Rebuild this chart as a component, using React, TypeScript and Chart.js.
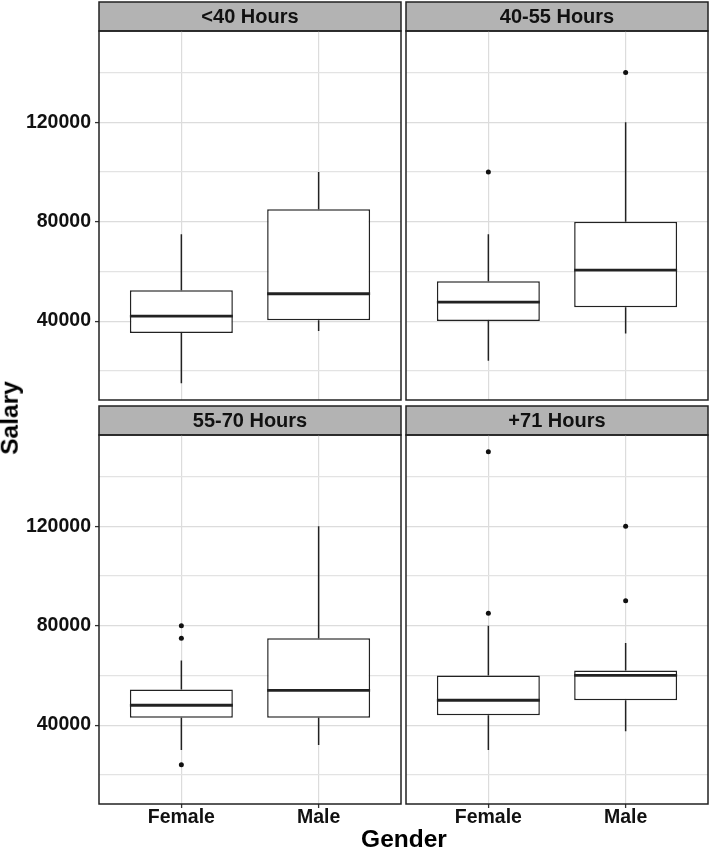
import React, { useEffect, useRef } from 'react';
import { Chart, registerables } from 'chart.js';

Chart.register(...registerables);

// ---------------- data ----------------
const genders = ['Female', 'Male'];
const hourGroups = ['<40 Hours', '40-55 Hours', '55-70 Hours', '+71 Hours'];
const lowerWhisker = [[15000, 36000], [24000, 35000], [30000, 32000], [30000, 37500]];
const lowerHinge = [[35200, 40300], [40000, 45600], [43000, 43000], [44000, 50000]];
const medians = [[42000, 51000], [47600, 60500], [48000, 54000], [50000, 60000]];
const upperHinge = [[52400, 85000], [56000, 80000], [54300, 75000], [60000, 62000]];
const upperWhisker = [[75000, 100000], [75000, 120000], [66000, 120000], [80000, 73000]];
const outliers = [
  [[], []],
  [[100000], [140000]],
  [[80000, 75000, 24000], []],
  [[150000, 85000], [120000, 90000]],
];
const yMajorTicks = [40000, 80000, 120000];
const yMinorTicks = [20000, 60000, 100000, 140000];

// ---------------- layout / style ----------------
const W = 712;
const H = 850;
const FONT = "'Liberation Sans', Arial, Helvetica, sans-serif";
const colLeft = [99, 406];
const colRight = [401, 708];
const rowTop = [2, 406];
const stripH = 29;
const panelH = 369;
const xAxisH = 46;
const INK = '#222222';

const allVals = [lowerWhisker, upperWhisker, outliers].flat(3) as number[];
const dMin = Math.min(...allVals);
const dMax = Math.max(...allVals);
const yMin = dMin - (dMax - dMin) * 0.05;
const yMax = dMax + (dMax - dMin) * 0.05;

const panelFrame = {
  id: 'panelFrame',
  beforeDraw(chart: any) {
    const { ctx, chartArea: a } = chart;
    const tb = chart.titleBlock;
    const top = tb ? tb.top : a.top - stripH;
    ctx.save();
    ctx.fillStyle = '#B3B3B3';
    ctx.fillRect(a.left, top, a.right - a.left, a.top - top);
    ctx.strokeStyle = INK;
    ctx.lineWidth = 1.5;
    ctx.strokeRect(a.left, top, a.right - a.left, a.top - top);
    ctx.restore();
  },
  afterDraw(chart: any) {
    const { ctx, chartArea: a } = chart;
    ctx.save();
    ctx.strokeStyle = INK;
    ctx.lineWidth = 1.5;
    ctx.strokeRect(a.left, a.top, a.right - a.left, a.bottom - a.top);
    ctx.restore();
  },
};

function makeConfig(p: number): any {
  const col = p % 2;
  const row = Math.floor(p / 2);
  const showY = col === 0;
  const showX = row === 1;
  const yAxisW = showY ? colLeft[0] : 0;
  const xH = showX ? xAxisH : 0;
  const panelBottom = rowTop[row] + stripH + panelH;

  const whiskers = {
    id: 'whiskers' + p,
    afterDatasetsDraw(chart: any) {
      const { ctx, scales } = chart;
      const y = scales.y;
      const meta = chart.getDatasetMeta(0);
      ctx.save();
      ctx.strokeStyle = INK;
      genders.forEach((_, i) => {
        const bar = meta.data[i];
        if (!bar) return;
        const { x: cx, width } = bar.getProps(['x', 'width'], true);
        ctx.lineWidth = 1.5;
        ctx.beginPath();
        ctx.moveTo(cx, y.getPixelForValue(upperHinge[p][i]));
        ctx.lineTo(cx, y.getPixelForValue(upperWhisker[p][i]));
        ctx.moveTo(cx, y.getPixelForValue(lowerHinge[p][i]));
        ctx.lineTo(cx, y.getPixelForValue(lowerWhisker[p][i]));
        ctx.stroke();
        ctx.lineWidth = 2.8;
        ctx.beginPath();
        const my = y.getPixelForValue(medians[p][i]);
        ctx.moveTo(cx - width / 2, my);
        ctx.lineTo(cx + width / 2, my);
        ctx.stroke();
      });
      ctx.restore();
    },
  };

  const tickFont = { family: FONT, size: 19.5, weight: 'bold' as const, lineHeight: 1 };

  return {
    type: 'bar',
    data: {
      datasets: [
        {
          type: 'bar',
          data: genders.map((_, i) => ({ x: i + 1, y: [lowerHinge[p][i], upperHinge[p][i]] })),
          backgroundColor: '#FFFFFF',
          borderColor: INK,
          borderWidth: 1.5,
          borderSkipped: false,
          barPercentage: 0.75,
          categoryPercentage: 1,
          order: 2,
        },
        {
          type: 'scatter',
          data: genders.flatMap((_, i) => outliers[p][i].map((v) => ({ x: i + 1, y: v }))),
          pointRadius: 2.5,
          pointBackgroundColor: '#111111',
          pointBorderWidth: 0,
          order: 1,
        },
      ],
    },
    options: {
      responsive: false,
      maintainAspectRatio: false,
      animation: false,
      devicePixelRatio: 1,
      events: [],
      layout: {
        padding: {
          left: colLeft[col] - yAxisW,
          right: W - colRight[col],
          top: rowTop[row],
          bottom: H - panelBottom - xH,
        },
      },
      plugins: {
        legend: { display: false },
        tooltip: { enabled: false },
        title: {
          display: true,
          text: hourGroups[p],
          fullSize: false,
          color: '#111111',
          font: { family: FONT, size: 20, weight: 'bold', lineHeight: 1.2 },
          padding: { top: 3, bottom: 2 },
        },
      },
      scales: {
        x: {
          type: 'linear',
          min: 0.4,
          max: 2.6,
          bounds: 'data',
          offset: false,
          afterBuildTicks: (s: any) => {
            s.ticks = genders.map((_, i) => ({ value: i + 1 }));
          },
          afterFit: (s: any) => {
            s.height = xH;
          },
          ticks: {
            display: showX,
            autoSkip: false,
            maxRotation: 0,
            minRotation: 0,
            padding: 0,
            color: '#111111',
            font: tickFont,
            callback: (_v: any, i: number) => genders[i],
          },
          grid: {
            offset: false,
            color: '#DCDCDC',
            lineWidth: 1.2,
            drawTicks: showX,
            tickLength: 4,
            tickColor: '#333333',
            tickWidth: 1.3,
          },
          border: { display: false },
        },
        y: {
          type: 'linear',
          min: yMin,
          max: yMax,
          bounds: 'data',
          afterBuildTicks: (s: any) => {
            s.ticks = [...yMinorTicks, ...yMajorTicks].sort((a, b) => a - b).map((v) => ({ value: v }));
          },
          afterFit: (s: any) => {
            s.width = yAxisW;
          },
          ticks: {
            display: showY,
            autoSkip: false,
            padding: 4,
            color: '#111111',
            font: tickFont,
            callback: (v: any) => (yMajorTicks.includes(v) ? String(v) : ''),
          },
          grid: {
            color: (ctx: any) => (yMajorTicks.includes(ctx.tick?.value) ? '#DCDCDC' : '#E3E3E3'),
            lineWidth: 1.2,
            drawTicks: showY,
            tickLength: 4,
            tickWidth: 1.3,
            tickColor: (ctx: any) => (yMajorTicks.includes(ctx.tick?.value) ? '#333333' : 'rgba(0,0,0,0)'),
          },
          border: { display: false },
        },
      },
    },
    plugins: [panelFrame, whiskers],
  };
}

export default function App() {
  const refs = useRef<(HTMLCanvasElement | null)[]>([]);

  useEffect(() => {
    const charts = hourGroups.map((_, p) => new Chart(refs.current[p] as HTMLCanvasElement, makeConfig(p)));
    return () => charts.forEach((c) => c.destroy());
  }, []);

  const titleFont: React.CSSProperties = {
    position: 'absolute',
    fontFamily: FONT,
    fontWeight: 'bold',
    fontSize: 24.5,
    lineHeight: 1,
    color: '#000',
    whiteSpace: 'nowrap',
  };

  return (
    <div style={{ position: 'absolute', left: 0, top: 0, width: W, height: H, background: '#FFFFFF', overflow: 'hidden' }}>
      {hourGroups.map((g, p) => (
        <canvas
          key={g}
          ref={(el) => {
            refs.current[p] = el;
          }}
          width={W}
          height={H}
          style={{ position: 'absolute', left: 0, top: 0, width: W, height: H }}
        />
      ))}
      <div style={{ ...titleFont, left: 10, top: 418, transform: 'translate(-50%, -50%) rotate(-90deg)' }}>Salary</div>
      <div style={{ ...titleFont, left: 404, top: 838.5, transform: 'translate(-50%, -50%)' }}>Gender</div>
    </div>
  );
}
